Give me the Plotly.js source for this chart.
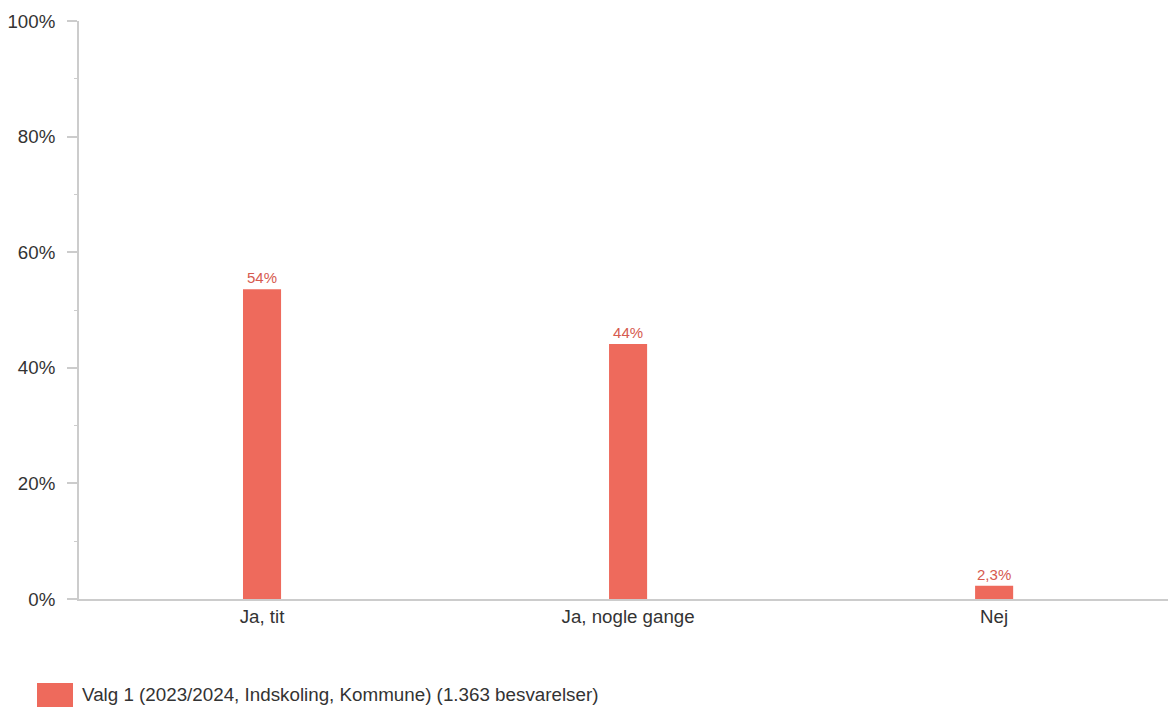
<!DOCTYPE html>
<html>
<head>
<meta charset="utf-8">
<script src="https://cdn.plot.ly/plotly-3.0.1.min.js"></script>
<style>html,body{margin:0;padding:0;background:#fff;}#chart{width:1168px;height:708px;}</style>
</head>
<body>
<div id="chart"></div>
<script>
var categories = ["Ja, tit", "Ja, nogle gange", "Nej"];
var values = [53.6, 44.1, 2.3];
var valueLabels = ["54%", "44%", "2,3%"];
var seriesName = "Valg 1 (2023/2024, Indskoling, Kommune) (1.363 besvarelser)";
var yTickVals = [0, 20, 40, 60, 80, 100];
var yTickText = ["0%", "20%", "40%", "60%", "80%", "100%"];

var barColor = "#ee6a5c";
var font = "Liberation Sans, Arial, sans-serif";

var trace = {
  type: "bar",
  x: [0, 1, 2],
  y: values,
  name: seriesName,
  width: 0.104,
  marker: {color: barColor},
  text: valueLabels,
  textposition: "outside",
  cliponaxis: false,
  textfont: {family: font, size: 15, color: "#d65a4f"},
  hoverinfo: "none"
};

var layout = {
  width: 1168,
  height: 708,
  margin: {l: 79, r: 0, t: 21, b: 109},
  paper_bgcolor: "#fff",
  plot_bgcolor: "#fff",
  showlegend: false,
  font: {family: font, size: 18.7, color: "#333"},
  xaxis: {
    range: [-0.5, 2.475],
    tickvals: [0, 1, 2],
    ticktext: categories,
    showgrid: false,
    zeroline: false,
    showline: true,
    linecolor: "#cccccc",
    linewidth: 2,
    ticks: "",
    tickfont: {family: font, size: 18.7, color: "#333"},
    fixedrange: true
  },
  yaxis: {
    range: [0, 100],
    tickvals: yTickVals,
    ticktext: yTickText,
    showgrid: false,
    zeroline: false,
    showline: true,
    linecolor: "#cccccc",
    linewidth: 2,
    ticks: "outside",
    ticklen: 10,
    tickcolor: "#cccccc",
    tickwidth: 2,
    ticklabelstandoff: 8,
    tickfont: {family: font, size: 18.7, color: "#333"},
    minor: {dtick: 10, ticks: "outside", ticklen: 3, tickcolor: "#cccccc", tickwidth: 1},
    fixedrange: true
  },
  shapes: [{
    type: "rect", xref: "paper", yref: "paper",
    x0: -42 / 1089, x1: -6 / 1089,
    y0: -108 / 578, y1: -84 / 578,
    fillcolor: barColor, line: {width: 0}
  }],
  annotations: [{
    xref: "paper", yref: "paper",
    x: 1 / 1089, y: -96 / 578,
    xanchor: "left", yanchor: "middle",
    text: seriesName, showarrow: false,
    font: {family: font, size: 18.8, color: "#333"}
  }]
};

Plotly.newPlot("chart", [trace], layout, {displayModeBar: false, staticPlot: true});
</script>
</body>
</html>
